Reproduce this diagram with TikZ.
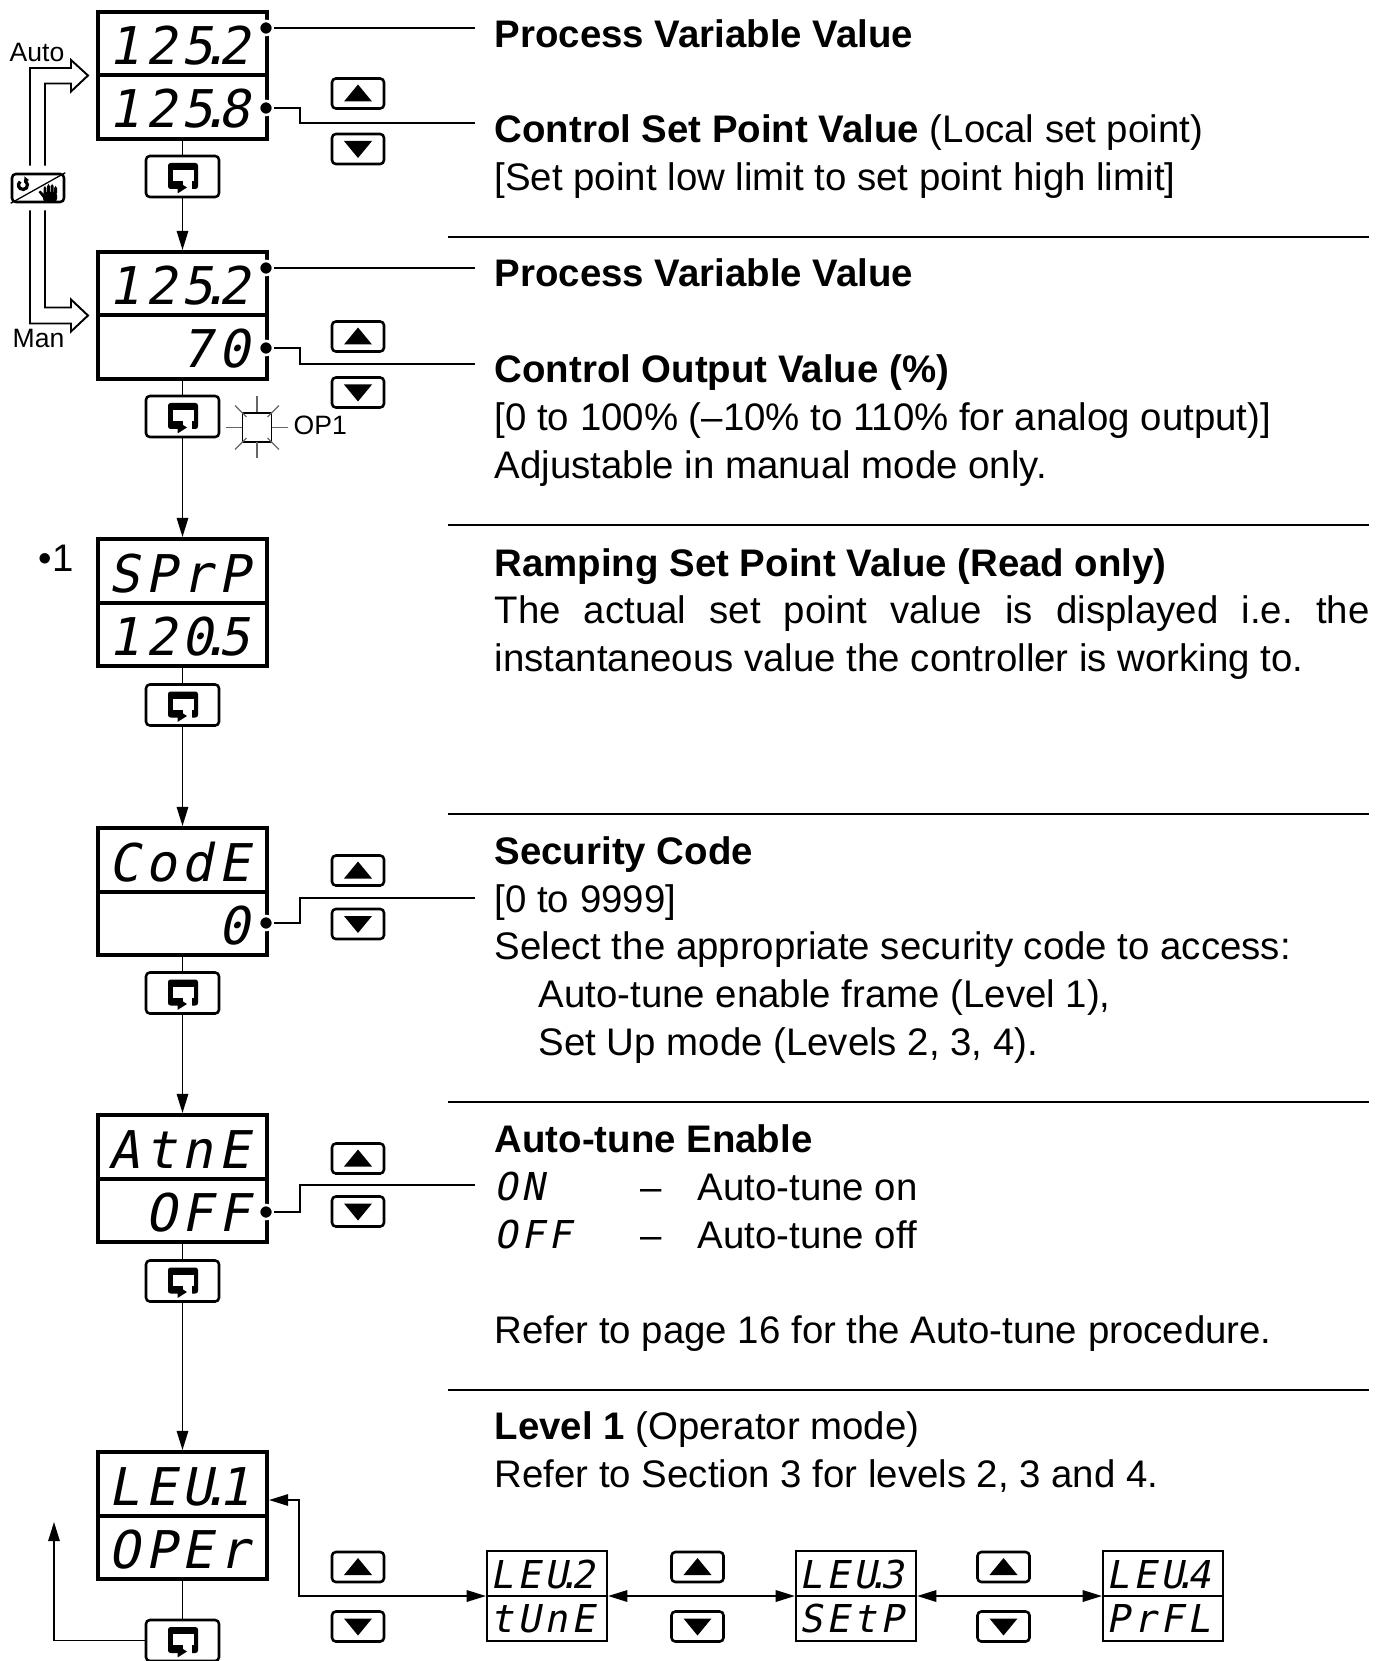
\documentclass[tikz,border=0pt]{standalone}
\usepackage{fontspec}
\setmainfont{Liberation Sans}
\newfontfamily\segfont{DejaVu Sans Mono}[FakeSlant=0.2,LetterSpace=10]
\usetikzlibrary{arrows.meta, positioning, calc}

\newcommand{\segdot}{\kern0.05em\makebox[0pt]{.}\kern0.05em}

\begin{document}
\begin{tikzpicture}[
    x=0.3125pt, y=-0.3125pt,
    display/.style={draw, line width=1.25pt, minimum width=169*\pxunit pt, minimum height=127*\pxunit pt, inner sep=0pt},
    levelbox/.style={draw, line width=0.7pt, minimum width=120*\pxunit pt, minimum height=90*\pxunit pt, inner sep=0pt},
    keyframe/.style={draw, line width=0.8pt, rounded corners=1.2pt, inner sep=0pt},
    scrollkey/.style={keyframe, minimum width=73*\pxunit pt, minimum height=41*\pxunit pt},
    updown/.style={keyframe, minimum width=52*\pxunit pt, minimum height=30*\pxunit pt},
    pin/.style={circle, fill=black, draw=white, line width=0.8pt, minimum size=14*\pxunit pt, inner sep=0pt},
    segbig/.style={anchor=base east, inner sep=0pt, font=\segfont\fontsize{16.25}{18}\selectfont},
    segsmall/.style={anchor=base east, inner sep=0pt, font=\segfont\fontsize{12}{14}\selectfont},
    segtxt/.style={anchor=base west, inner sep=0pt, font=\segfont\fontsize{12}{14}\selectfont},
    txt/.style={anchor=base west, inner sep=0pt, font=\fontsize{12}{15}\selectfont},
    head/.style={txt, font=\fontsize{12}{15}\selectfont\bfseries},
    tag/.style={anchor=base west, inner sep=0pt, font=\fontsize{8.3}{10}\selectfont},
    flow/.style={line width=0.5pt},
    flowarrow/.style={flow, -{Triangle[length=6pt, width=3.6pt]}},
    biarrow/.style={flow, {Triangle[length=6pt, width=3.6pt]}-{Triangle[length=6pt, width=3.6pt]}},
    leader/.style={line width=0.6pt},
    rule/.style={line width=0.85pt},
    ray/.style={line width=0.35pt, black!60},
    pics/uptri/.style={code={\fill (-14,8) -- (14,8) -- (0,-9) -- cycle;}},
    pics/dntri/.style={code={\fill (-14,-8) -- (14,-8) -- (0,9) -- cycle;}},
    pics/returnicon/.style={code={
        \fill[rounded corners=0.8pt] (-14.5,-13.5) rectangle (15.5,12.5);
        \fill[white] (-9.5,-6.5) rectangle (11.5,4.5);
        \fill[white] (0,4) rectangle (9,13);
        \fill (-5,5) -- (4.5,11) -- (-5,17) -- cycle;}}
]
\pgfmathsetmacro{\pxunit}{0.3125}
\useasboundingbox (0,0) rectangle (1383,1661);

% Display 1 (auto)
\node[display] (d1) at (182.5,75.5) {};
\draw[line width=1.25pt] (d1.west) -- (d1.east);
\node[segbig] (d1a) at (250,65) {125\segdot 2};
\node[segbig] (d1b) at (250,128) {125\segdot 8};
\node[scrollkey] (k1) at (182.5,176.5) {};
\pic at (k1) {returnicon};

% Display 2 (manual)
\node[display] (d2) at (182.5,315.5) {};
\draw[line width=1.25pt] (d2.west) -- (d2.east);
\node[segbig] (d2a) at (250,305) {125\segdot 2};
\node[segbig] (d2b) at (250,368) {70};
\node[scrollkey] (k2) at (182.5,416.5) {};
\pic at (k2) {returnicon};

% Display 3 (ramping set point)
\node[display] (d3) at (182.5,602.5) {};
\draw[line width=1.25pt] (d3.west) -- (d3.east);
\node[segbig] (d3a) at (250,592) {SPrP};
\node[segbig] (d3b) at (250,655) {120\segdot 5};
\node[scrollkey] (k3) at (182.5,705) {};
\pic at (k3) {returnicon};

% Display 4 (security code)
\node[display] (d4) at (182.5,891.5) {};
\draw[line width=1.25pt] (d4.west) -- (d4.east);
\node[segbig] (d4a) at (250,881) {CodE};
\node[segbig] (d4b) at (250,944) {0};
\node[scrollkey] (k4) at (182.5,993) {};
\pic at (k4) {returnicon};

% Display 5 (auto-tune)
\node[display] (d5) at (182.5,1178.5) {};
\draw[line width=1.25pt] (d5.west) -- (d5.east);
\node[segbig] (d5a) at (250,1168) {AtnE};
\node[segbig] (d5b) at (250,1231) {OFF};
\node[scrollkey] (k5) at (182.5,1281) {};
\pic at (k5) {returnicon};

% Display 6 (level)
\node[display] (d6) at (182.5,1515.5) {};
\draw[line width=1.25pt] (d6.west) -- (d6.east);
\node[segbig] (d6a) at (250,1505) {LEU\segdot 1};
\node[segbig] (d6b) at (250,1568) {OPEr};
\node[scrollkey] (k6) at (182.5,1640.5) {};
\pic at (k6) {returnicon};

% Scroll path
\draw[flow] (d1.south) -- (k1.north);
\draw[flowarrow] (k1.south) -- (d2.north);
\draw[flow] (d2.south) -- (k2.north);
\draw[flowarrow] (k2.south) -- (d3.north);
\draw[flow] (d3.south) -- (k3.north);
\draw[flowarrow] (k3.south) -- (d4.north);
\draw[flow] (d4.south) -- (k4.north);
\draw[flowarrow] (k4.south) -- (d5.north);
\draw[flow] (d5.south) -- (k5.north);
\draw[flowarrow] (k5.south) -- (d6.north);
\draw[flow] (d6.south) -- (k6.north);
\coordinate (ret) at (54,1522);
\draw[flowarrow] (k6.west) -| (ret);

% Up / down keys
\node[updown] (u1) at (358,93.5) {};   \pic at (u1) {uptri};
\node[updown] (v1) at (358,149) {};    \pic at (v1) {dntri};
\node[updown] (u2) at (358,336.5) {};  \pic at (u2) {uptri};
\node[updown] (v2) at (358,392.5) {};  \pic at (v2) {dntri};
\node[updown] (u4) at (358,870.5) {};  \pic at (u4) {uptri};
\node[updown] (v4) at (358,924) {};    \pic at (v4) {dntri};
\node[updown] (u5) at (358,1158.5) {}; \pic at (u5) {uptri};
\node[updown] (v5) at (358,1211.5) {}; \pic at (v5) {dntri};
\node[updown] (u6) at (358,1567) {};   \pic at (u6) {uptri};
\node[updown] (v6) at (358,1626.5) {}; \pic at (v6) {dntri};
\node[updown] (u7) at (697.5,1567) {};   \pic at (u7) {uptri};
\node[updown] (v7) at (697.5,1626.5) {}; \pic at (v7) {dntri};
\node[updown] (u8) at (1003.5,1567) {};   \pic at (u8) {uptri};
\node[updown] (v8) at (1003.5,1626.5) {}; \pic at (v8) {dntri};

% Leaders from the displays
\node[pin] (p1) at (266,28) {};
\node[pin] (p2) at (266,108) {};
\node[pin] (p3) at (266,268) {};
\node[pin] (p4) at (266,348) {};
\node[pin] (p5) at (266,923) {};
\node[pin] (p6) at (266,1212) {};
\coordinate (e1) at (475,28);
\coordinate (e2) at (475,123);
\coordinate (e3) at (475,268);
\coordinate (e4) at (475,364);
\coordinate (e5) at (475,898);
\coordinate (e6) at (475,1185);
\draw[leader] (p1) -- (e1);
\draw[leader] (p2) -- ++(34,0) |- (e2);
\draw[leader] (p3) -- (e3);
\draw[leader] (p4) -- ++(34,0) |- (e4);
\draw[leader] (p5) -- ++(34,0) |- (e5);
\draw[leader] (p6) -- ++(34,0) |- (e6);

% Auto / Man key
\node[keyframe, minimum width=52*\pxunit pt, minimum height=28*\pxunit pt] (tog) at (38,188) {};
\draw[line width=0.4pt] (tog.south west) -- (tog.north east);
\draw[line width=1pt] (tog.center) ++(-15,-3) ++(-50:4.5) arc[start angle=-50, end angle=230, radius=4.5];
\fill (tog.center) ++(-13.5,-11.5) -- ++(4.5,3.5) -- ++(-5,3) -- cycle;
\fill[rounded corners=1pt] (tog.center) ++(5,4) rectangle ++(14,10);
\fill[rounded corners=0.6pt] (tog.center) ++(5.5,-2) rectangle ++(2.8,9);
\fill[rounded corners=0.6pt] (tog.center) ++(9.1,-4) rectangle ++(2.8,11);
\fill[rounded corners=0.6pt] (tog.center) ++(12.7,-4) rectangle ++(2.8,11);
\fill[rounded corners=0.6pt] (tog.center) ++(16.2,-2) rectangle ++(2.8,9);
\fill (tog.center) ++(6,11) -- ++(-5.5,-7) -- ++(2,-1.4) -- ++(5.5,5.5) -- cycle;
\draw[line width=0.6pt] ($(tog.north)+(-8,-7)$) |- ($(d1.west)+(-25,-7.5)$) -- ++(0,-8)
    -- ($(d1.west)+(-8,0)$) -- ++(-17,16) -- ++(0,-8) -| ($(tog.north)+(7,-7)$);
\draw[line width=0.6pt] ($(tog.south)+(7,7)$) |- ($(d2.west)+(-25,-8)$) -- ++(0,-8)
    -- ($(d2.west)+(-8,0)$) -- ++(-17,16) -- ++(0,-8) -| ($(tog.south)+(-8,7)$);
\node[tag] (autolbl) at (9,62) {Auto};
\node[tag] (manlbl) at (12,348) {Man};

% OP1 lamp
\node[draw, line width=0.5pt, minimum size=29*\pxunit pt, inner sep=0pt] (lamp) at (257,427.5) {};
\foreach \a in {0,45,...,315} \draw[ray] (lamp.center) ++(\a:15) -- ++(\a:16);
\node[tag] (op1) at (293,435) {OP1};

% Note mark
\node[txt] (note1) at (38,572) {•1};

% Level displays
\node[levelbox] (l2) at (547,1596) {};
\draw[line width=0.7pt] (l2.west) -- (l2.east);
\node[segsmall] (l2a) at (595,1588) {LEU\segdot 2};
\node[segsmall] (l2b) at (595,1632) {tUnE};
\node[levelbox] (l3) at (856,1596) {};
\draw[line width=0.7pt] (l3.west) -- (l3.east);
\node[segsmall] (l3a) at (904,1588) {LEU\segdot 3};
\node[segsmall] (l3b) at (904,1632) {SEtP};
\node[levelbox] (l4) at (1163,1596) {};
\draw[line width=0.7pt] (l4.west) -- (l4.east);
\node[segsmall] (l4a) at (1211,1588) {LEU\segdot 4};
\node[segsmall] (l4b) at (1211,1632) {PrFL};
\coordinate (bend) at (299,1500);
\draw[biarrow] (d6.east |- bend) -- (bend) |- (l2.west);
\draw[biarrow] (l2.east) -- (l3.west);
\draw[biarrow] (l3.east) -- (l4.west);

% Rules
\draw[rule] (448,237) -- (1369,237);
\draw[rule] (448,525) -- (1369,525);
\draw[rule] (448,814) -- (1369,814);
\draw[rule] (448,1102) -- (1369,1102);
\draw[rule] (448,1390) -- (1369,1390);

% Descriptions
\node[head] (t1) at (494,48) {Process Variable Value};
\node[txt] (t2) at (494,143) {\textbf{Control Set Point Value} (Local set point)};
\node[txt] (t3) at (494,191) {[Set point low limit to set point high limit]};
\node[head] (t4) at (494,287) {Process Variable Value};
\node[head] (t5) at (494,383) {Control Output Value (\%)};
\node[txt] (t6) at (494,431) {[0 to 100\% (--10\% to 110\% for analog output)]};
\node[txt] (t7) at (494,479) {Adjustable in manual mode only.};
\node[head] (t8) at (494,576) {Ramping Set Point Value (Read only)};
\node[txt] (t9) at (494,623) {\makebox[273.4pt][s]{The actual set point value is displayed i.e.\ the}};
\node[txt] (t10) at (494,671) {instantaneous value the controller is working to.};
\node[head] (t11) at (494,864) {Security Code};
\node[txt] (t12) at (494,912) {[0 to 9999]};
\node[txt] (t13) at (494,959) {Select the appropriate security code to access:};
\node[txt] (t14) at (538,1007) {Auto-tune enable frame (Level 1),};
\node[txt] (t15) at (538,1055) {Set Up mode (Levels 2, 3, 4).};
\node[head] (t16) at (494,1152) {Auto-tune Enable};
\node[segtxt] (t17) at (494,1200) {ON};
\node[txt] (t17d) at (640,1200) {--};
\node[txt] (t17t) at (697,1200) {Auto-tune on};
\node[segtxt] (t18) at (494,1248) {OFF};
\node[txt] (t18d) at (640,1248) {--};
\node[txt] (t18t) at (697,1248) {Auto-tune off};
\node[txt] (t19) at (494,1343) {Refer to page 16 for the Auto-tune procedure.};
\node[txt] (t20) at (494,1439) {\textbf{Level 1} (Operator mode)};
\node[txt] (t21) at (494,1487) {Refer to Section 3 for levels 2, 3 and 4.};
\end{tikzpicture}
\end{document}
